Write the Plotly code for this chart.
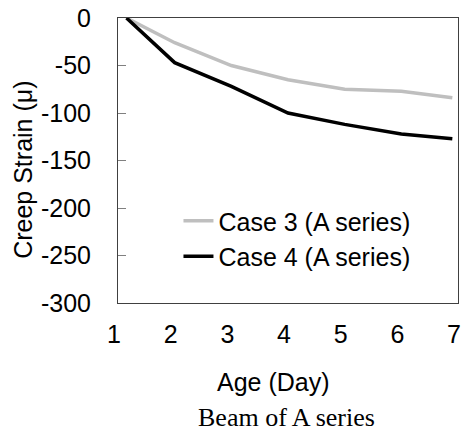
import plotly.graph_objects as go

# Creep strain of the A-series beam
age_days = [1.15, 2, 3, 4, 5, 6, 6.9]
case3_strain = [0, -26, -50, -65, -75, -77, -84]
case4_strain = [0, -47, -72, -100, -112, -122, -127]

x_ticks = [1, 2, 3, 4, 5, 6, 7]
y_ticks = [0, -50, -100, -150, -200, -250, -300]

W, H = 464, 435
L, R, T, B = 118, 3, 18, 132
PW, PH = W - L - R, H - T - B

sans = "Liberation Sans, Arial, sans-serif"
serif = "Liberation Serif, Times New Roman, serif"
FS = 25


def px_x(px):
    return (px - L) / PW


def px_y(py):
    return 1 - (py - T) / PH


fig = go.Figure()
fig.add_trace(go.Scatter(
    x=age_days, y=case3_strain, mode="lines", name="Case 3 (A series)",
    line=dict(color="#BFBFBF", width=3.5),
))
fig.add_trace(go.Scatter(
    x=age_days, y=case4_strain, mode="lines", name="Case 4 (A series)",
    line=dict(color="#000000", width=3.5),
))

fig.update_layout(
    width=W, height=H,
    margin=dict(l=L, r=R, t=T, b=B),
    paper_bgcolor="white", plot_bgcolor="white",
    font=dict(family=sans, size=FS, color="black"),
    showlegend=True,
    legend=dict(
        x=px_x(179), y=px_y(198), xanchor="left", yanchor="top",
        bgcolor="rgba(0,0,0,0)", traceorder="normal",
        font=dict(family=sans, size=FS, color="black"),
    ),
    xaxis=dict(
        range=[1, 7], tickvals=x_ticks, ticktext=[str(v) for v in x_ticks],
        showgrid=False, zeroline=False, ticks="",
        showline=True, linecolor="#404040", linewidth=1, mirror=True,
        ticklabelshift=-4, ticklabelstandoff=9,
    ),
    yaxis=dict(
        range=[-300, 0], tickvals=y_ticks, ticktext=[str(v) for v in y_ticks],
        showgrid=False, zeroline=False,
        ticks="inside", ticklen=8, tickcolor="#808080", tickwidth=1,
        showline=True, linecolor="#404040", linewidth=1, mirror=True,
        ticklabelstandoff=21,
    ),
    annotations=[
        dict(text="Creep Strain (μ)", textangle=-90, xref="paper", yref="paper",
             x=px_x(22), y=px_y(170), xanchor="center", yanchor="middle",
             showarrow=False, font=dict(family=sans, size=FS)),
        dict(text="Age (Day)", xref="paper", yref="paper",
             x=px_x(275), y=px_y(382), xanchor="center", yanchor="middle",
             showarrow=False, font=dict(family=sans, size=FS)),
        dict(text="Beam of A series", xref="paper", yref="paper",
             x=px_x(288), y=px_y(417), xanchor="center", yanchor="middle",
             showarrow=False, font=dict(family=serif, size=26)),
    ],
)

fig.write_html("out.html")
